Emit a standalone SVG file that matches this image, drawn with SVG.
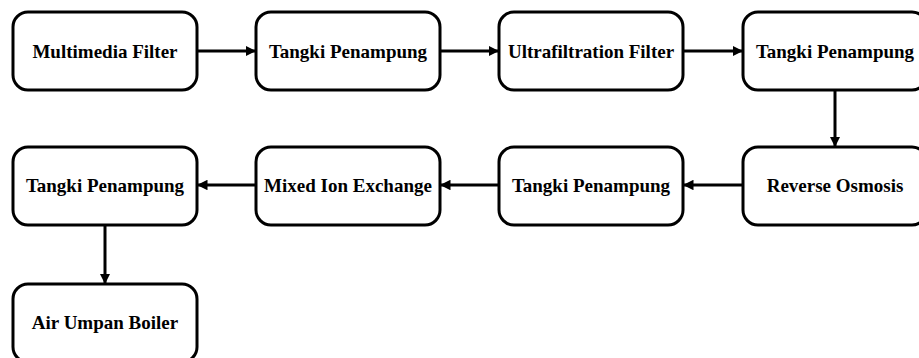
<svg xmlns="http://www.w3.org/2000/svg" width="919" height="358" viewBox="0 0 919 358">
<style>
.box{fill:#fff;stroke:#000;stroke-width:3}
.lbl{font-family:"Liberation Serif","Times New Roman",serif;font-weight:bold;font-size:19px;fill:#000;text-anchor:middle}
.conn{stroke:#000;stroke-width:3;fill:none}
</style>
<defs>
<marker id="arr" viewBox="0 0 10 10" refX="10" refY="5" markerWidth="3.5" markerHeight="3.5" orient="auto" markerUnits="strokeWidth">
<path d="M0,0 L10,5 L0,10 Z" fill="#000"/>
</marker>
</defs>
<rect width="919" height="358" fill="#fff"/>
<g id="connectors">
<line class="conn" x1="197" y1="51" x2="256" y2="51" marker-end="url(#arr)"/>
<line class="conn" x1="440" y1="51" x2="499" y2="51" marker-end="url(#arr)"/>
<line class="conn" x1="683" y1="51" x2="743" y2="51" marker-end="url(#arr)"/>
<line class="conn" x1="835" y1="90" x2="835" y2="147" marker-end="url(#arr)"/>
<line class="conn" x1="743" y1="185" x2="683" y2="185" marker-end="url(#arr)"/>
<line class="conn" x1="499" y1="185" x2="440" y2="185" marker-end="url(#arr)"/>
<line class="conn" x1="256" y1="185" x2="197" y2="185" marker-end="url(#arr)"/>
<line class="conn" x1="105" y1="225" x2="105" y2="284" marker-end="url(#arr)"/>
</g>
<g id="n1"><rect class="box" x="13" y="12" width="184" height="78" rx="15"/><text class="lbl" x="105" y="57.5">Multimedia Filter</text></g>
<g id="n2"><rect class="box" x="256" y="12" width="184" height="78" rx="15"/><text class="lbl" x="348" y="57.5">Tangki Penampung</text></g>
<g id="n3"><rect class="box" x="499" y="12" width="184" height="78" rx="15"/><text class="lbl" x="591" y="57.5">Ultrafiltration Filter</text></g>
<g id="n4"><rect class="box" x="743" y="12" width="184" height="78" rx="15"/><text class="lbl" x="835" y="57.5">Tangki Penampung</text></g>
<g id="n5"><rect class="box" x="743" y="147" width="184" height="78" rx="15"/><text class="lbl" x="835" y="191.5">Reverse Osmosis</text></g>
<g id="n6"><rect class="box" x="499" y="147" width="184" height="78" rx="15"/><text class="lbl" x="591" y="191.5">Tangki Penampung</text></g>
<g id="n7"><rect class="box" x="256" y="147" width="184" height="78" rx="15"/><text class="lbl" x="348" y="191.5">Mixed Ion Exchange</text></g>
<g id="n8"><rect class="box" x="13" y="147" width="184" height="78" rx="15"/><text class="lbl" x="105" y="191.5">Tangki Penampung</text></g>
<g id="n9"><rect class="box" x="13" y="284" width="184" height="78" rx="15"/><text class="lbl" x="105" y="328.5">Air Umpan Boiler</text></g>
</svg>
